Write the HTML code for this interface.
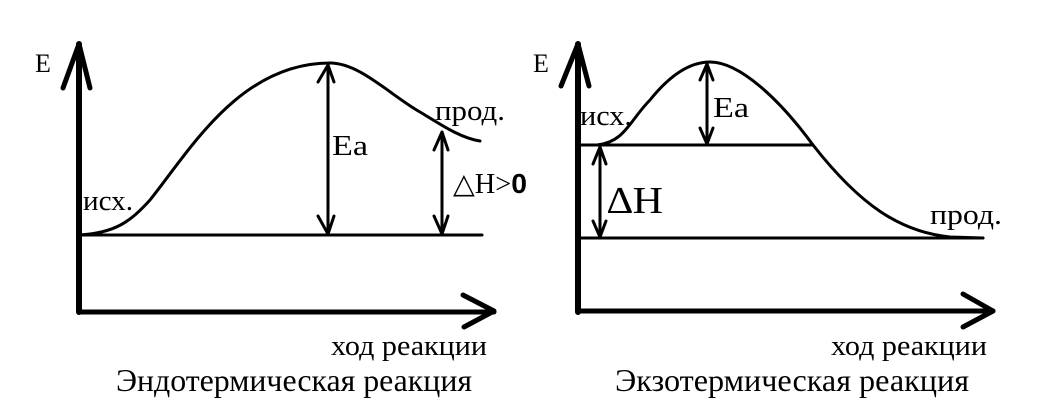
<!DOCTYPE html>
<html><head><meta charset="utf-8"><style>html,body{margin:0;padding:0;background:#fff}svg{display:block}</style></head>
<body>
<svg width="1061" height="419" viewBox="0 0 1061 419" xmlns="http://www.w3.org/2000/svg" font-family="Liberation Serif, serif" fill="#000">
<g stroke="#000" fill="none" stroke-linecap="round" stroke-linejoin="round">
<path d="M79 312 V44" stroke-width="6"/>
<path d="M63 88 L79 44 L90 88" stroke-width="5"/>
<path d="M79 312 H494" stroke-width="5"/>
<path d="M463 295 L494 311 L464 327" stroke-width="5"/>
<path d="M79 235 H482" stroke-width="3"/>
<path d="M79 235 C115 233 130 222 150 200 C190 150 240 63 330 63 C360 63 390 95 420 112 C440 124 460 138 480 141" stroke-width="3"/>
<path d="M328 65 V234 M318 82 L328 65 L334 82 M318 216 L328 234 L334 216" stroke-width="3"/>
<path d="M442 132 V234 M434 150 L442 132 L448 150 M434 216 L442 234 L448 216" stroke-width="3"/>
<path d="M578 312 V44" stroke-width="6"/>
<path d="M561 86 L578 44 L589 86" stroke-width="5"/>
<path d="M578 311 H993" stroke-width="5"/>
<path d="M963 294 L993 311 L963 327" stroke-width="5"/>
<path d="M578 145 H813" stroke-width="3"/>
<path d="M578 238 H983" stroke-width="3"/>
<path d="M597 145 C625 142 630 120 650 100 C670 75 690 62 710 62 C740 62 780 100 813 145 C860 205 900 232 950 237 L983 238" stroke-width="3"/>
<path d="M707 64 V144 M700 80 L707 64 L713 80 M700 128 L707 144 L713 128" stroke-width="3"/>
<path d="M600 147 V237 M593 164 L600 147 L606 164 M593 221 L600 237 L606 221" stroke-width="3"/>
</g>
<g>
<text x="35" y="72" font-size="26">E</text>
<text x="533" y="72" font-size="26">E</text>
<text x="83" y="210" font-size="28" textLength="50" lengthAdjust="spacingAndGlyphs">исх.</text>
<text x="332" y="155" font-size="28" textLength="36" lengthAdjust="spacingAndGlyphs">Ea</text>
<text x="453" y="193" font-size="28" textLength="74" lengthAdjust="spacingAndGlyphs">△H&gt;<tspan font-family="Liberation Sans, sans-serif" font-weight="bold">0</tspan></text>
<text x="435" y="120" font-size="28" textLength="70" lengthAdjust="spacingAndGlyphs">прод.</text>
<text x="580" y="125" font-size="28" textLength="52" lengthAdjust="spacingAndGlyphs">исх.</text>
<text x="713" y="117" font-size="28" textLength="36" lengthAdjust="spacingAndGlyphs">Ea</text>
<text x="607" y="213" font-size="38" textLength="56" lengthAdjust="spacingAndGlyphs">∆H</text>
<text x="930" y="224" font-size="28" textLength="72" lengthAdjust="spacingAndGlyphs">прод.</text>
<text x="331" y="355" font-size="28" textLength="156" lengthAdjust="spacingAndGlyphs">ход реакции</text>
<text x="831" y="355" font-size="28" textLength="156" lengthAdjust="spacingAndGlyphs">ход реакции</text>
<text x="116" y="391" font-size="32" textLength="356" lengthAdjust="spacingAndGlyphs">Эндотермическая реакция</text>
<text x="615" y="391" font-size="32" textLength="354" lengthAdjust="spacingAndGlyphs">Экзотермическая реакция</text>
</g>
</svg>
</body></html>
